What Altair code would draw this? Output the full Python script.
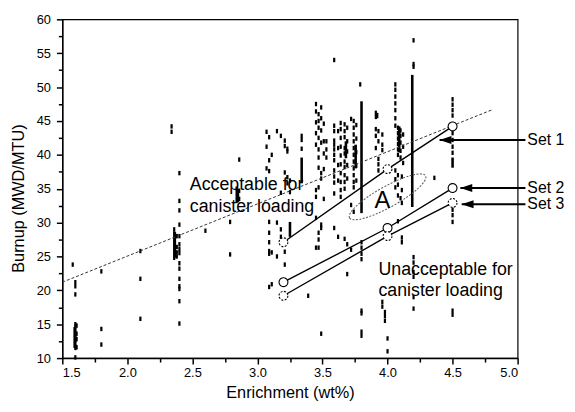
import altair as alt
import pandas as pd

FONT = "Liberation Sans"

# ---------------- axis ticks ----------------
x_major = [1.5, 2.0, 2.5, 3.0, 3.5, 4.0, 4.5, 5.0]
x_minor = [1.75, 2.25, 2.75, 3.25, 3.75, 4.25, 4.75]
y_major = [10, 15, 20, 25, 30, 35, 40, 45, 50, 55, 60]
y_minor = [12.5, 17.5, 22.5, 27.5, 32.5, 37.5, 42.5, 47.5, 52.5, 57.5]

# ---------------- assembly scatter (enrichment -> list of burnups) ----------------
scatter_columns = {
    1.58: [23.8],
    1.60: [21.2, 20.6, 19.4, 15.0, 14.6, 14.2, 13.8, 13.4, 13.0, 12.6, 12.2, 11.8, 11.5, 10.1],
    1.61: [14.8, 13.6, 12.8, 11.6],
    1.80: [22.8, 14.3, 12.0],
    2.10: [25.8, 21.7, 15.8],
    2.34: [44.2, 43.4],
    2.36: [29.0, 28.4, 27.8, 27.2, 26.6, 26.0, 25.4, 24.8],
    2.38: [28.0, 26.4, 25.6, 25.0],
    2.40: [37.3, 33.2, 31.8, 29.7, 28.0, 26.8, 26.1, 25.5, 24.0, 23.2, 21.7, 20.6, 20.2, 18.4, 15.1],
    2.60: [28.8],
    2.79: [30.1, 25.3],
    2.84: [35.0, 34.4, 33.8, 33.2],
    2.86: [39.3, 34.7, 33.5],
    3.07: [43.4, 41.2, 38.0],
    3.09: [42.6, 39.2, 37.6, 30.1, 28.5, 27.1, 25.8, 25.4, 20.5],
    3.11: [40.0, 25.6, 20.9],
    3.15: [43.5, 30.0, 25.0],
    3.18: [42.8, 34.4, 29.0, 27.9],
    3.21: [42.1, 41.3, 37.4, 25.7, 23.8],
    3.23: [40.9, 40.5, 36.7, 35.8],
    3.25: [36.2, 34.5],
    3.34: [42.8, 42.2, 40.9],
    3.39: [19.2],
    3.45: [47.5, 46.4, 44.8, 43.2, 41.5, 34.8, 33.8, 30.7, 26.3],
    3.47: [46.0, 45.0, 44.0, 42.5, 40.8, 39.6, 38.1, 35.2, 28.5, 27.5, 26.3],
    3.49: [47.0, 45.4, 43.6, 41.8, 37.3, 36.5, 29.7, 29.2, 13.6],
    3.51: [44.6, 42.0, 40.2, 37.9, 33.5],
    3.53: [42.0, 40.8, 39.6],
    3.59: [54.0, 44.3, 43.5, 42.1, 41.5, 40.8, 40.0, 39.2, 37.7, 36.8, 35.9, 34.3, 29.2],
    3.62: [43.5, 41.0, 38.5, 36.2, 27.9],
    3.64: [44.7, 43.8, 42.5, 41.2, 39.9, 38.6, 37.3, 36.0, 34.8, 33.8],
    3.67: [44.5, 43.5, 42.6, 41.0, 40.2, 39.0, 38.2, 37.0, 36.0, 35.0, 27.6],
    3.69: [44.0, 42.0, 40.5, 38.5, 36.5, 26.8, 22.4],
    3.72: [45.3, 32.6, 26.0],
    3.74: [45.0, 44.0, 43.0, 42.0, 41.0, 40.0, 39.0, 38.0, 37.0, 36.0, 35.2, 31.6],
    3.76: [44.4, 42.4, 40.4, 38.4, 36.2],
    3.79: [50.4],
    3.80: [27.1, 26.3, 25.4, 24.6, 17.0, 16.6, 13.9, 13.3],
    3.91: [46.2, 45.6, 43.8, 42.8, 41.0],
    3.93: [43.5, 42.0, 39.4, 38.6, 37.7],
    3.96: [43.0, 41.5, 40.7, 18.3, 17.6],
    3.98: [16.8, 16.2, 15.5],
    4.00: [12.9, 11.0],
    4.06: [50.4, 49.6, 48.6, 47.6, 46.6, 45.4, 44.3, 37.7, 36.4, 35.2],
    4.08: [44.0, 43.2, 42.4, 41.6, 40.8, 40.0, 37.0, 35.6, 34.0, 30.2],
    4.10: [43.6, 42.8, 41.8, 40.6, 39.6, 33.6],
    4.11: [36.8, 34.8, 32.9, 27.8, 27.1],
    4.12: [43.0, 41.2, 38.8],
    4.20: [56.9, 53.4, 53.0, 24.9, 24.1, 22.7, 22.0, 19.0, 17.3],
    4.36: [36.6],
    4.50: [48.2, 47.4, 46.6, 45.8, 43.2, 42.2, 41.2, 40.3, 31.9, 31.1, 30.1, 17.0, 16.4],
}

# dense runs of assemblies drawn as continuous vertical strokes
dense_x = [1.595, 2.365, 2.85, 3.25, 3.34, 3.80, 4.19, 4.50, 3.92, 4.09, 3.68, 3.755]
dense_y1 = [11.5, 24.8, 33.0, 27.9, 35.8, 31.4, 32.3, 38.1, 45.4, 40.4, 39.5, 38.0]
dense_y2 = [14.6, 28.6, 35.0, 30.1, 39.6, 47.9, 51.8, 39.6, 46.2, 44.2, 42.0, 41.5]

# dashed fit line
trend_x = [1.5, 4.81]
trend_y = [21.2, 46.7]

# loading curves
set_names = ["Set 1", "Set 2", "Set 3"]
set_x = [3.2, 4.0, 4.5]
set_y = {
    "Set 1": [27.1, 37.9, 44.2],
    "Set 2": [21.2, 29.2, 35.1],
    "Set 3": [19.2, 28.0, 32.9],
}
set_dashed = {
    "Set 1": [True, True, False],
    "Set 2": [False, False, False],
    "Set 3": [True, True, True],
}

# arrows and their labels
arrow_y = [42.2, 35.1, 32.7]
arrow_tip_x = [4.40, 4.56, 4.57]
arrow_tail_x = [5.06, 5.06, 5.06]
arrow_label_x = [5.075, 5.075, 5.075]

# region annotations
zone_text = ["Acceptable for", "canister loading", "Unacceptable for", "canister loading"]
zone_x = [2.48, 2.48, 3.93, 3.93]
zone_y = [34.8, 31.6, 22.2, 19.2]

region_a_x = [3.96]
region_a_y = [33.2]
ellipse_x = [4.0]
ellipse_y = [33.8]

# ---------------- tables ----------------
scatter_df = pd.DataFrame(
    [{"x": x, "y": y} for x, ys in scatter_columns.items() for y in ys]
)
dense_df = pd.DataFrame({"x": dense_x, "y1": dense_y1, "y2": dense_y2})
trend_df = pd.DataFrame({"x": trend_x, "y": trend_y})
sets_df = pd.DataFrame(
    [
        {"set": s, "x": x, "y": y, "dashed": d}
        for s in set_names
        for x, y, d in zip(set_x, set_y[s], set_dashed[s])
    ]
)
arrows_df = pd.DataFrame(
    {"label": set_names, "y": arrow_y, "tip": arrow_tip_x, "tail": arrow_tail_x, "lx": arrow_label_x}
)
zone_df = pd.DataFrame({"text": zone_text, "x": zone_x, "y": zone_y})
a_df = pd.DataFrame({"text": ["A"], "x": region_a_x, "y": region_a_y})
ell_df = pd.DataFrame({"x": ellipse_x, "y": ellipse_y})
minor_df = pd.DataFrame({"x": [2.0], "y": [20.0]})

xs = alt.Scale(domain=[1.5, 5.0], nice=False, zero=False)
ys = alt.Scale(domain=[10, 60], nice=False, zero=False)

DASH = "M -0.5 -1 L 0.5 -1 L 0.5 1 L -0.5 1 Z"
ELLIPSE = "M -1 0 A 1 0.24 0 1 1 1 0 A 1 0.24 0 1 1 -1 0 Z"
HEAD = "M 0 0 L 1 -0.34 L 1 0.34 Z"

main_x_axis = alt.Axis(
    values=x_major, format=".1f", title="Enrichment (wt%)", orient="bottom",
    tickSize=6, tickWidth=1.5, domainWidth=1.5, domainColor="black", tickColor="black",
    labelFont=FONT, labelFontSize=13, labelColor="black", labelPadding=3,
    titleFont=FONT, titleFontSize=16.5, titleFontWeight="normal", titleColor="black",
    titlePadding=5, grid=False,
)
main_y_axis = alt.Axis(
    values=y_major, format="d", title="Burnup (MWD/MTU)", orient="left",
    tickSize=6, tickWidth=1.5, domainWidth=1.5, domainColor="black", tickColor="black",
    labelFont=FONT, labelFontSize=13, labelColor="black", labelPadding=6,
    titleFont=FONT, titleFontSize=16.5, titleFontWeight="normal", titleColor="black",
    titlePadding=10, titleY=181, grid=False,
)
minor_x_axis = alt.Axis(
    values=x_minor, labels=False, domain=False, title=None, orient="bottom",
    tickSize=4, tickWidth=1.5, tickColor="black", grid=False,
)
minor_y_axis = alt.Axis(
    values=y_minor, labels=False, domain=False, title=None, orient="left",
    tickSize=4, tickWidth=1.5, tickColor="black", grid=False,
)

scatter = alt.Chart(scatter_df).mark_point(
    shape=DASH, size=20, filled=True, color="black", opacity=1, strokeWidth=0
).encode(
    x=alt.X("x:Q", scale=xs, axis=main_x_axis),
    y=alt.Y("y:Q", scale=ys, axis=main_y_axis),
)

minor = alt.Chart(minor_df).mark_point(opacity=0).encode(
    x=alt.X("x:Q", scale=xs, axis=minor_x_axis),
    y=alt.Y("y:Q", scale=ys, axis=minor_y_axis),
)

dense = alt.Chart(dense_df).mark_rule(color="black", strokeWidth=2.6).encode(
    x=alt.X("x:Q", scale=xs, axis=None),
    y=alt.Y("y1:Q", scale=ys, axis=None),
    y2="y2:Q",
)

trend = alt.Chart(trend_df).mark_line(
    color="#333333", strokeWidth=1, strokeDash=[3, 2]
).encode(
    x=alt.X("x:Q", scale=xs, axis=None),
    y=alt.Y("y:Q", scale=ys, axis=None),
)

set_lines = alt.Chart(sets_df).mark_line(color="black", strokeWidth=1.4).encode(
    x=alt.X("x:Q", scale=xs, axis=None),
    y=alt.Y("y:Q", scale=ys, axis=None),
    detail="set:N",
)

set_points = alt.Chart(sets_df).mark_point(
    shape="circle", size=80, filled=True, fill="white", stroke="black", strokeWidth=1.1, opacity=1
).encode(
    x=alt.X("x:Q", scale=xs, axis=None),
    y=alt.Y("y:Q", scale=ys, axis=None),
    strokeDash=alt.condition(alt.datum.dashed, alt.value([2, 1.5]), alt.value([1, 0])),
)

arrow_lines = alt.Chart(arrows_df).mark_rule(color="black", strokeWidth=2).encode(
    x=alt.X("tip:Q", scale=xs, axis=None),
    x2="tail:Q",
    y=alt.Y("y:Q", scale=ys, axis=None),
)

arrow_heads = alt.Chart(arrows_df).mark_point(
    shape=HEAD, size=576, filled=True, color="black", opacity=1, strokeWidth=0
).encode(
    x=alt.X("tip:Q", scale=xs, axis=None),
    y=alt.Y("y:Q", scale=ys, axis=None),
)

arrow_labels = alt.Chart(arrows_df).mark_text(
    align="left", baseline="middle", font=FONT, fontSize=16, color="black"
).encode(
    x=alt.X("lx:Q", scale=xs, axis=None),
    y=alt.Y("y:Q", scale=ys, axis=None),
    text="label:N",
)

zones = alt.Chart(zone_df).mark_text(
    align="left", baseline="alphabetic", font=FONT, fontSize=18, color="black"
).encode(
    x=alt.X("x:Q", scale=xs, axis=None),
    y=alt.Y("y:Q", scale=ys, axis=None),
    text="text:N",
)

ellipse = alt.Chart(ell_df).mark_point(
    shape=ELLIPSE, size=7744, angle=331, filled=False, color="#555555",
    strokeWidth=1, strokeDash=[2, 1.5], opacity=1
).encode(
    x=alt.X("x:Q", scale=xs, axis=None),
    y=alt.Y("y:Q", scale=ys, axis=None),
)

a_label = alt.Chart(a_df).mark_text(
    align="center", baseline="middle", font=FONT, fontSize=24, color="black"
).encode(
    x=alt.X("x:Q", scale=xs, axis=None),
    y=alt.Y("y:Q", scale=ys, axis=None),
    text="text:N",
)

chart = alt.layer(
    scatter, minor, dense, trend, ellipse, set_lines, set_points,
    arrow_lines, arrow_heads, arrow_labels, zones, a_label,
).resolve_axis(
    x="independent", y="independent"
).properties(
    width=461, height=343,
    padding={"left": 55, "top": 9, "right": 50, "bottom": 44},
    autosize=alt.AutoSizeParams(type="none"),
    background="white",
).configure_view(
    stroke="black", strokeWidth=1.2
)

chart.save("out.html", embed_options={"renderer": "svg", "actions": False})
